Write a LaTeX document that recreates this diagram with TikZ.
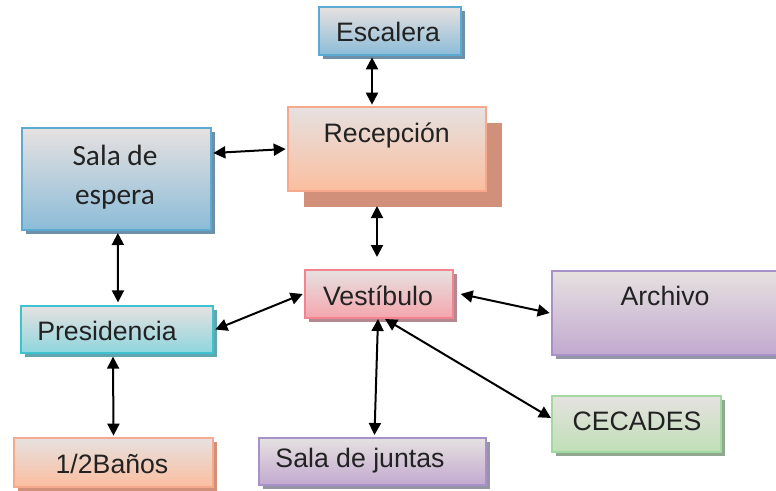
\documentclass[tikz,border=0pt]{standalone}
\usepackage{fontspec}
\setmainfont{Liberation Sans}
\newfontfamily\salafont{Carlito}
\usetikzlibrary{shadows,arrows.meta,calc}
\definecolor{topg}{HTML}{E6E1E0}
\definecolor{bluB}{HTML}{5BAAD2}\definecolor{bluF}{HTML}{8CBCD8}\definecolor{bluS}{HTML}{6E8FA8}
\definecolor{recB}{HTML}{F6A98C}\definecolor{recF}{HTML}{FBBE9F}\definecolor{recS}{HTML}{D0907A}
\definecolor{preB}{HTML}{3FC2CF}\definecolor{preF}{HTML}{8ED6DE}\definecolor{preS}{HTML}{5FA6AE}
\definecolor{vesB}{HTML}{F3838F}\definecolor{vesF}{HTML}{F4A6AE}\definecolor{vesS}{HTML}{B48890}
\definecolor{purB}{HTML}{A890C8}\definecolor{purF}{HTML}{C2A9CF}\definecolor{purS}{HTML}{9495A5}
\definecolor{greB}{HTML}{A2D9A2}\definecolor{greF}{HTML}{BFE0B6}\definecolor{greS}{HTML}{8FA88F}
\definecolor{txtc}{HTML}{222222}
\begin{document}
\begin{tikzpicture}[x=0.75pt,y=-0.75pt,
  box/.style n args={5}{draw=#1, line width=1.5pt, rectangle, inner sep=0pt,
    top color=topg, bottom color=#2,
    general shadow={fill=#3, shadow xshift=#4, shadow yshift=-#4},
    minimum width=#5},
  txt/.style={anchor=base, text=txtc, inner sep=0pt, font=\fontsize{20pt}{23pt}\selectfont},
  stxt/.style={anchor=base, text=txtc, inner sep=0pt, font=\salafont\fontsize{22pt}{25pt}\selectfont},
  con/.style={line width=1.5pt, {Triangle[length=9pt,width=9pt]}-{Triangle[length=9pt,width=9pt]}}
]
\clip (0,0) rectangle (776,490);
\fill[white] (0,0) rectangle (776,490);
% boxes
\node[box={bluB}{bluF}{bluS}{3pt}{106.5pt}, minimum height=36pt] (esc) at (390,31) {};
\node[box={recB}{recF}{recS}{12pt}{148.5pt}, minimum height=63pt] (rec) at (387,149) {};
\node[box={bluB}{bluF}{bluS}{3pt}{141.75pt}, minimum height=76.5pt] (sala) at (116.5,179) {};
\node[box={preB}{preF}{preS}{3pt}{144pt}, minimum height=35.25pt] (pres) at (117,329.5) {};
\node[box={vesB}{vesF}{vesS}{3pt}{111pt}, minimum height=36pt] (vest) at (379,294) {};
\node[box={purB}{purF}{purS}{3pt}{180pt}, minimum height=63pt] (arch) at (672,313) {};
\node[box={greB}{greF}{greS}{3pt}{126.75pt}, minimum height=42pt] (cec) at (636.5,424) {};
\node[box={purB}{purF}{purS}{3pt}{170.25pt}, minimum height=35.25pt] (junt) at (372.5,461.5) {};
\node[box={recB}{recF}{recS}{3pt}{149.25pt}, minimum height=36.75pt] (ban) at (113.5,462.5) {};
% texts
\node[txt] (tesc) at (388,41.7) {Escalera};
\node[txt] (trec) at (386.7,142) {Recepción};
\node[stxt] (tsala1) at (115,165) {Sala de};
\node[stxt] (tsala2) at (115,204) {espera};
\node[txt] (tpres) at (107,340) {Presidencia};
\node[txt] (tvest) at (378,305) {Vestíbulo};
\node[txt] (tarch) at (665,305) {Archivo};
\node[txt] (tcec) at (637,430) {CECADES};
\node[txt] (tjunt) at (360,467) {Sala de juntas};
\node[txt] (tban) at (112,473) {1/2Baños};
% connectors
\draw[con] ([xshift=-13.5pt,yshift=-1pt]esc.south) -- ([xshift=-11.25pt,yshift=1pt]rec.north);
\draw[con] ([yshift=19.5pt,xshift=1pt]sala.east) -- ([xshift=-1pt]rec.west);
\draw[con] ([xshift=-7.5pt,yshift=-10.5pt]rec.south) -- ([xshift=-1.5pt,yshift=9pt]vest.north);
\draw[con] ([xshift=1pt,yshift=-1.5pt]sala.south) -- ([xshift=0.75pt,yshift=2pt]pres.north);
\draw[con] ([xshift=1pt]pres.east) -- ([xshift=-1pt]vest.west);
\draw[con] ([xshift=5pt]vest.east) -- ([xshift=-1pt]arch.west);
\draw[con] ([xshift=-0.75pt]vest.south) -- ([xshift=1.5pt,yshift=1.5pt]junt.north);
\draw[con] ([xshift=4.5pt]vest.south) -- ([yshift=4.5pt]cec.west);
\draw[con] ([xshift=-3pt,yshift=-2pt]pres.south) -- ([yshift=1pt]ban.north);
\end{tikzpicture}
\end{document}
